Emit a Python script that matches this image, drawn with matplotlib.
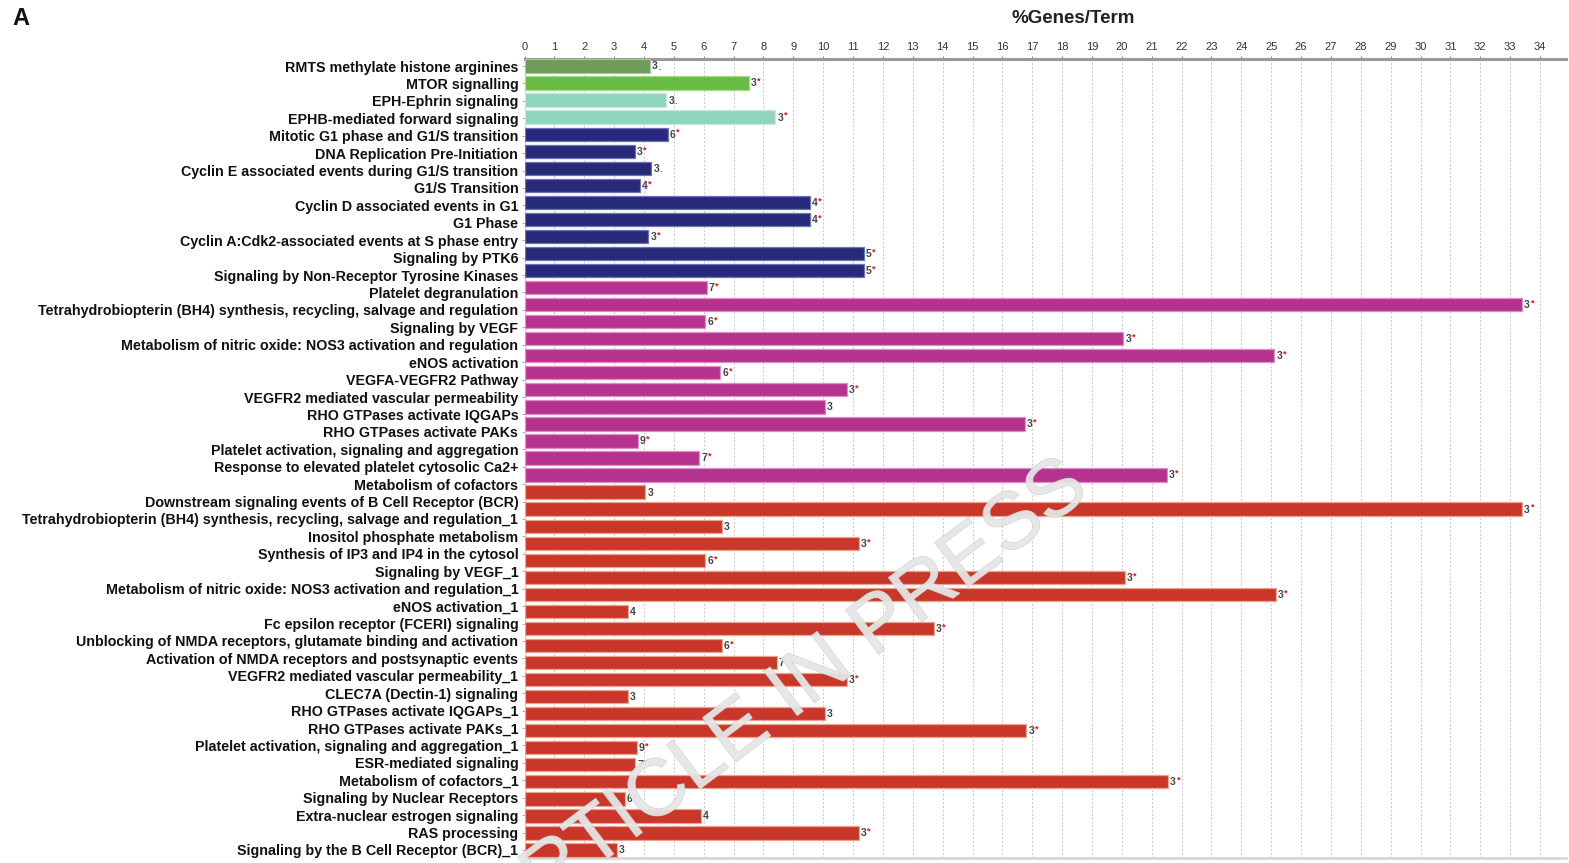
import matplotlib.pyplot as plt
import matplotlib.patheffects as pe
import numpy as np

plt.rcParams['font.family'] = ['Liberation Sans', 'DejaVu Sans']

# enriched terms, top to bottom
terms = [
    "RMTS methylate histone arginines",
    "MTOR signalling",
    "EPH-Ephrin signaling",
    "EPHB-mediated forward signaling",
    "Mitotic G1 phase and G1/S transition",
    "DNA Replication Pre-Initiation",
    "Cyclin E associated events during G1/S transition",
    "G1/S Transition",
    "Cyclin D associated events in G1",
    "G1 Phase",
    "Cyclin A:Cdk2-associated events at S phase entry",
    "Signaling by PTK6",
    "Signaling by Non-Receptor Tyrosine Kinases",
    "Platelet degranulation",
    "Tetrahydrobiopterin (BH4) synthesis, recycling, salvage and regulation",
    "Signaling by VEGF",
    "Metabolism of nitric oxide: NOS3 activation and regulation",
    "eNOS activation",
    "VEGFA-VEGFR2 Pathway",
    "VEGFR2 mediated vascular permeability",
    "RHO GTPases activate IQGAPs",
    "RHO GTPases activate PAKs",
    "Platelet activation, signaling and aggregation",
    "Response to elevated platelet cytosolic Ca2+",
    "Metabolism of cofactors",
    "Downstream signaling events of B Cell Receptor (BCR)",
    "Tetrahydrobiopterin (BH4) synthesis, recycling, salvage and regulation_1",
    "Inositol phosphate metabolism",
    "Synthesis of IP3 and IP4 in the cytosol",
    "Signaling by VEGF_1",
    "Metabolism of nitric oxide: NOS3 activation and regulation_1",
    "eNOS activation_1",
    "Fc epsilon receptor (FCERI) signaling",
    "Unblocking of NMDA receptors, glutamate binding and activation",
    "Activation of NMDA receptors and postsynaptic events",
    "VEGFR2 mediated vascular permeability_1",
    "CLEC7A (Dectin-1) signaling",
    "RHO GTPases activate IQGAPs_1",
    "RHO GTPases activate PAKs_1",
    "Platelet activation, signaling and aggregation_1",
    "ESR-mediated signaling",
    "Metabolism of cofactors_1",
    "Signaling by Nuclear Receptors",
    "Extra-nuclear estrogen signaling",
    "RAS processing",
    "Signaling by the B Cell Receptor (BCR)_1",
]

# % genes per term, one value per bar
pct = [
    4.2, 7.5, 4.75, 8.4,
    4.8, 3.7, 4.25, 3.85, 9.55, 9.55, 4.15, 11.35, 11.35,
    6.1, 33.4, 6.05, 20.05, 25.1, 6.55, 10.8, 10.05, 16.75, 3.8, 5.85, 21.5,
    4.05, 33.4, 6.6, 11.2, 6.05, 20.1, 25.15, 3.45, 13.7, 6.6, 8.45,
    10.8, 3.45, 10.05, 16.8, 3.75, 3.7, 21.55, 3.35, 5.9, 11.2, 3.1,
]

# gene counts and significance mark printed after each bar
genes = [
    3, 3, 3, 3,
    6, 3, 3, 4, 4, 4, 3, 5, 5,
    7, 3, 6, 3, 3, 6, 3, 3, 3, 9, 7, 3,
    3, 3, 3, 3, 6, 3, 3, 4, 3, 6, 7,
    3, 3, 3, 3, 9, 7, 3, 6, 4, 3, 3,
]
marks = [
    '.', '*', '.', '*',
    '*', '*', '.', '*', '*', '*', '*', '*', '*',
    '*', '*', '*', '*', '*', '*', '*', '', '*', '*', '*', '*',
    '', '*', '', '*', '*', '*', '*', '', '*', '*', '',
    '*', '', '', '*', '*', '*', '*', '*', '', '*', '',
]

groups = (['rmts'] + ['mtor'] + ['eph'] * 2 + ['cycle'] * 9
          + ['vegf'] * 12 + ['bcr'] * 22)
group_colors = {
    'rmts': '#6f9a57',
    'mtor': '#68bb45',
    'eph': '#90d4c0',
    'cycle': '#262a78',
    'vegf': '#b5338f',
    'bcr': '#c9372b',
}
edge_colors = {
    'rmts': '#a9c79a',
    'mtor': '#a6dc8c',
    'eph': '#c4ebdf',
    'cycle': '#6e72b8',
    'vegf': '#dd8cc4',
    'bcr': '#eba38e',
}

x_ticks = list(range(0, 35))

fig = plt.figure(figsize=(15.69, 8.63), dpi=100)
ax = fig.add_axes([0.3343, 0.0058, 0.6638, 0.9258])

y = np.arange(len(pct))
ax.barh(y, pct, height=0.78,
        color=[group_colors[g] for g in groups],
        edgecolor=[edge_colors[g] for g in groups], linewidth=0.9, zorder=3)

for yi, v, n, m in zip(y, pct, genes, marks):
    ax.annotate(str(n), xy=(v, yi), xytext=(1.5, -0.3), textcoords='offset points',
                ha='left', va='center', fontsize=7.5, fontweight='bold',
                color='#444444', zorder=4)
    if m:
        ax.annotate(m, xy=(v, yi), xytext=(6.0, 1.2 if m == '*' else -1.2),
                    textcoords='offset points', ha='left', va='center',
                    fontsize=6.5, fontweight='bold',
                    color='#e01010' if m == '*' else '#444444', zorder=4)

ax.set_xlim(0, 34.87)
ax.set_ylim(len(pct) - 0.53, -0.41)

ax.xaxis.tick_top()
ax.set_xticks(x_ticks)
ax.set_xticklabels([str(t) for t in x_ticks], fontsize=8, color='#333333')
ax.tick_params(axis='x', length=2, width=0.8, color='#888888', pad=3)
ax.grid(axis='x', color='#c8c8c8', linestyle=(0, (2, 2)), linewidth=0.7, zorder=0)

# term labels are spread evenly over the full bar range
label_pos = np.linspace(0, len(pct) - 1, len(terms))
ax.set_yticks(label_pos)
ax.set_yticklabels(terms, fontsize=10.3, fontweight='bold', color='#111111')
ax.tick_params(axis='y', length=2, width=0.6, color='#999999', pad=2.5)

ax.spines['right'].set_visible(False)
ax.spines['top'].set_color('#9a9a9a')
ax.spines['top'].set_linewidth(2.2)
ax.spines['left'].set_color('#d0d0d0')
ax.spines['left'].set_linewidth(0.8)
ax.spines['bottom'].set_color('#d8d8d8')
ax.spines['bottom'].set_linewidth(2)

fig.text(0.684, 0.978, "%Genes/Term", ha='center', va='center',
         fontsize=13.5, fontweight='bold', color='#222222')
fig.text(0.008, 0.978, "A", ha='left', va='center',
         fontsize=17, fontweight='bold', color='#111111')

fig.text(0.5, 0.19, "ARTICLE IN PRESS", ha='center', va='center',
         rotation=37, fontsize=58, color='#e6e6e6', alpha=0.75, zorder=10,
         path_effects=[pe.withStroke(linewidth=0.7, foreground='#c8c8c8')])

fig.savefig('out.png', dpi=100)
